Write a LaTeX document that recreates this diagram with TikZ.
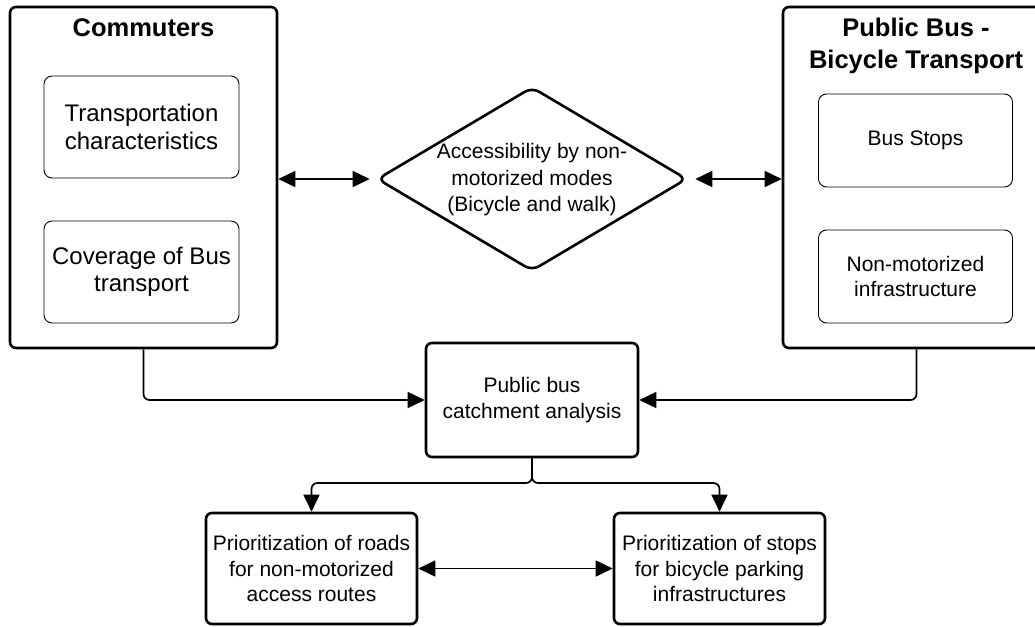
\documentclass[tikz,border=0pt]{standalone}
\usepackage{fontspec}
\setmainfont{Liberation Sans}
\usetikzlibrary{shapes.geometric,arrows.meta}

\begin{document}
\begin{tikzpicture}[x=1pt,y=-1pt,
  outerbox/.style={draw, line width=2.6pt, rounded corners=6pt, inner sep=0pt},
  innerbox/.style={draw, line width=0.9pt, rounded corners=8pt, inner sep=0pt,
    align=center, font=\fontsize{21}{25.5}\selectfont},
  stepbox/.style={draw, line width=2.6pt, rounded corners=6pt, inner sep=0pt,
    align=center, font=\fontsize{21}{26}\selectfont},
  titletext/.style={inner sep=0pt, align=center,
    font=\fontsize{25.5}{31.5}\selectfont\bfseries},
  tip/.tip={Triangle[length=17pt,width=16pt]},
  link/.style={line width=1.7pt, -tip},
  bilink/.style={line width=1.7pt, tip-tip},
]
\useasboundingbox (0,0) rectangle (1035,626);
\clip (0,0) rectangle (1035,626);

% Commuters group
\node[outerbox, minimum width=267pt, minimum height=341pt] (comm) at (143.5,177.5) {};
\node[titletext] (commt) at (143.5,28) {Commuters};
\node[innerbox, minimum width=195pt, minimum height=102pt,
      font=\fontsize{24}{27.5}\selectfont] (trans) at (141.5,127)
      {Transportation\\characteristics};
\node[innerbox, minimum width=195pt, minimum height=102pt,
      font=\fontsize{24}{27.5}\selectfont] (cover) at (141.5,272)
      {Coverage of Bus\\transport};

% Public bus - bicycle group
\node[outerbox, minimum width=267pt, minimum height=341pt] (bus) at (916.5,177.5) {};
\node[titletext] (bust) at (916,46) {Public Bus -\\Bicycle Transport};
\node[innerbox, minimum width=194pt, minimum height=93pt] (stops) at (915.5,140.5) {Bus Stops};
\node[innerbox, minimum width=194pt, minimum height=93pt] (infra) at (915.5,276.5)
      {Non-motorized\\infrastructure};

% Accessibility decision
\node[diamond, draw, line width=2.6pt, rounded corners=8pt, inner sep=0pt,
      minimum width=310pt, minimum height=184pt] (acc) at (532,179) {};
\node[align=center, inner sep=0pt, font=\fontsize{21}{26.5}\selectfont] (acct) at (532,180)
      {Accessibility by non-\\motorized modes\\(Bicycle and walk)};

% Analysis and outcomes
\node[stepbox, minimum width=212pt, minimum height=114pt] (catch) at (532,400)
      {Public bus\\catchment analysis};
\node[stepbox, minimum width=211pt, minimum height=111pt,
      font=\fontsize{21}{25.5}\selectfont] (roads) at (311.5,568.5)
      {Prioritization of roads\\for non-motorized\\access routes};
\node[stepbox, minimum width=211pt, minimum height=111pt,
      font=\fontsize{21}{25.5}\selectfont] (park) at (719.5,568.5)
      {Prioritization of stops\\for bicycle parking\\infrastructures};

% Connectors
\draw[bilink] (comm.east |- acc.west) -- ([xshift=-6pt]acc.west);
\draw[bilink] ([xshift=7pt]acc.east) -- (bus.west |- acc.east);
\draw[link, rounded corners=6pt] (comm.south) |- (catch.west);
\draw[link, rounded corners=6pt] (bus.south) |- (catch.east);
\coordinate (split) at (532,483);
\draw[link, rounded corners=6pt] (catch.south) -- (split) -| (roads.north);
\draw[link, rounded corners=6pt] (catch.south) -- (split) -| (park.north);
\draw[bilink] (roads.east) -- (park.west);
\end{tikzpicture}
\end{document}
